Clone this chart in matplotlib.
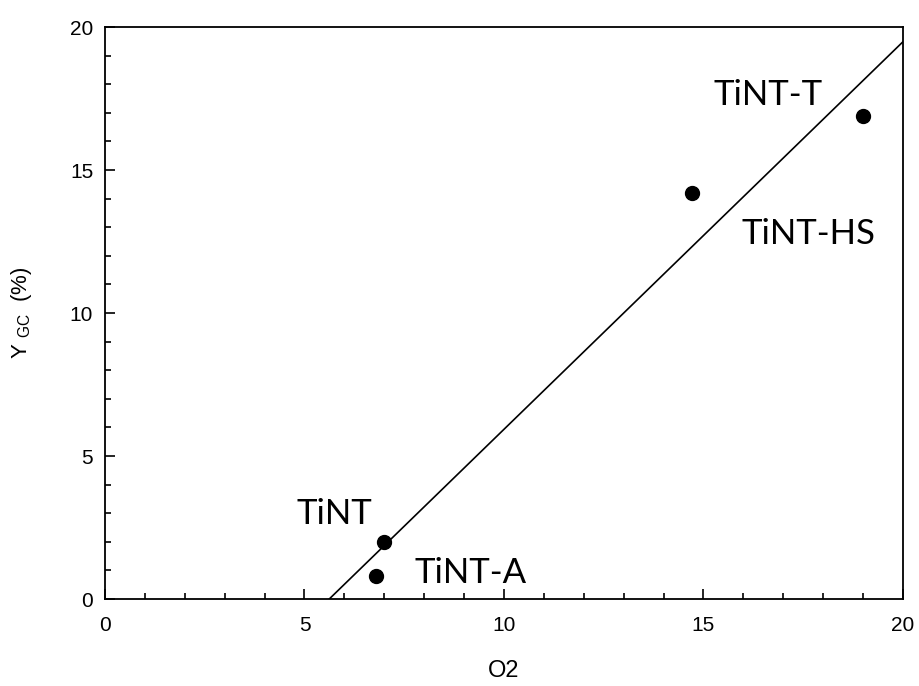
import numpy as np
import matplotlib
matplotlib.use("Agg")
import matplotlib.pyplot as plt
from matplotlib.ticker import MultipleLocator

plt.rcParams['font.family'] = ['Liberation Sans', 'DejaVu Sans']
plt.rcParams['mathtext.default'] = 'regular'

# Samples and measurements
samples = ["TiNT-A", "TiNT", "TiNT-HS", "TiNT-T"]
o2 = [6.8, 7.0, 14.7, 19.0]
y_gc = [0.8, 2.0, 14.2, 16.9]

fig = plt.figure(figsize=(9.2, 6.86), dpi=100)
ax = fig.add_axes([0.1141, 0.1268, 0.8674, 0.8338])

# Linear fit through the samples
slope, intercept = np.polyfit(o2, y_gc, 1)
x0 = -intercept / slope
xf = np.array([x0, 20.0])
ax.plot(xf, slope * xf + intercept, color="black", lw=1.2)

ax.plot(o2, y_gc, "o", color="black", ms=10)

label_pos = {
    "TiNT-A": (7.77, 0.91),
    "TiNT": (4.81, 2.97),
    "TiNT-HS": (15.96, 12.78),
    "TiNT-T": (15.26, 17.64),
}
for name in samples:
    lx, ly = label_pos[name]
    ax.text(lx, ly, name, fontsize=25, family=["Lato", "DejaVu Sans"],
            va="center", ha="left")

ax.set_xlim(0, 20)
ax.set_ylim(0, 20)
ax.xaxis.set_major_locator(MultipleLocator(5))
ax.xaxis.set_minor_locator(MultipleLocator(1))
ax.yaxis.set_major_locator(MultipleLocator(5))
ax.yaxis.set_minor_locator(MultipleLocator(1))
ax.tick_params(which="both", direction="in", top=False, right=False,
               width=1.2, labelsize=15)
ax.tick_params(which="major", length=7)
ax.tick_params(which="minor", length=4)
ax.tick_params(axis="x", which="major", pad=12.5)
ax.tick_params(axis="y", which="major", pad=8.5)
for sp in ax.spines.values():
    sp.set_linewidth(1.3)

ax.set_xlabel("O2", fontsize=17, labelpad=18)
ax.set_ylabel(r"Y $_{GC}$  (%)", fontsize=16, labelpad=26)

fig.savefig("out.png", dpi=100)
